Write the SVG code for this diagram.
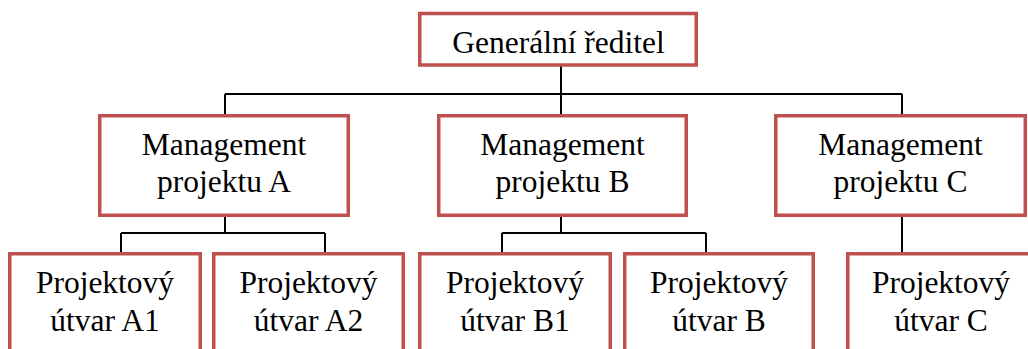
<svg xmlns="http://www.w3.org/2000/svg" width="1028" height="349" viewBox="0 0 1028 349">
  <style>
    .box { fill: #ffffff; stroke: #C0504D; stroke-width: 3.5; }
    .lbl { font-family: "Times New Roman", "Liberation Serif", Tinos, serif; font-size: 31.5px; fill: #000000; text-anchor: middle; }
    .conn { fill: none; stroke: #000000; stroke-width: 2; }
  </style>
  <rect width="1028" height="349" fill="#ffffff"/>

  <!-- connectors -->
  <g id="connectors" class="conn">
    <path d="M561 66 V114"/>
    <path d="M225 94 H902"/>
    <path d="M225 94 V114 M902 94 V114"/>
    <path d="M225 217 V233 M121 233 H325 M121 233 V252 M325 233 V252"/>
    <path d="M561 217 V233 M502 233 H706 M502 233 V252 M706 233 V252"/>
    <path d="M902 217 V252"/>
  </g>

  <g id="node-ceo">
    <rect class="box" x="419.75" y="13.5" width="276.5" height="51.5"/>
    <text class="lbl" x="558.5" y="53">Generální ředitel</text>
  </g>

  <g id="node-mgmt-a">
    <rect class="box" x="99.75" y="115.75" width="248.5" height="99.5"/>
    <text class="lbl" x="224" y="155">Management</text>
    <text class="lbl" x="224" y="192">projektu A</text>
  </g>
  <g id="node-mgmt-b">
    <rect class="box" x="438.75" y="115.75" width="247.5" height="99.5"/>
    <text class="lbl" x="562.5" y="155">Management</text>
    <text class="lbl" x="562.5" y="192">projektu B</text>
  </g>
  <g id="node-mgmt-c">
    <rect class="box" x="775.75" y="115.75" width="249.5" height="99.5"/>
    <text class="lbl" x="900.5" y="155">Management</text>
    <text class="lbl" x="900.5" y="192">projektu C</text>
  </g>

  <g id="node-a1">
    <rect class="box" x="9.75" y="253.75" width="190.5" height="100"/>
    <text class="lbl" x="105" y="293">Projektový</text>
    <text class="lbl" x="105" y="331">útvar A1</text>
  </g>
  <g id="node-a2">
    <rect class="box" x="213.75" y="253.75" width="189.5" height="100"/>
    <text class="lbl" x="308.5" y="293">Projektový</text>
    <text class="lbl" x="308.5" y="331">útvar A2</text>
  </g>
  <g id="node-b1">
    <rect class="box" x="419.75" y="253.75" width="190.5" height="100"/>
    <text class="lbl" x="515" y="293">Projektový</text>
    <text class="lbl" x="515" y="331">útvar B1</text>
  </g>
  <g id="node-b2">
    <rect class="box" x="624.75" y="253.75" width="188.5" height="100"/>
    <text class="lbl" x="719" y="293">Projektový</text>
    <text class="lbl" x="719" y="331">útvar B</text>
  </g>
  <g id="node-c1">
    <rect class="box" x="847.75" y="253.75" width="188" height="100"/>
    <text class="lbl" x="941" y="293">Projektový</text>
    <text class="lbl" x="941" y="331">útvar C</text>
  </g>
</svg>
